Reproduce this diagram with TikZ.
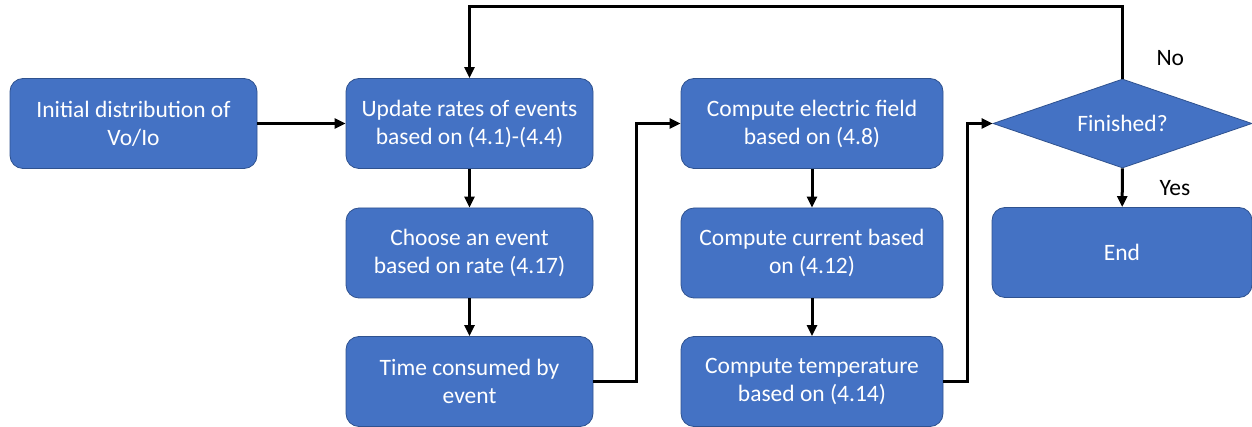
\documentclass[tikz,border=0pt]{standalone}
\usepackage{fontspec}
\setmainfont{Carlito}
\usetikzlibrary{arrows.meta,shapes.geometric}
\definecolor{boxblue}{HTML}{4472C4}
\definecolor{boxedge}{HTML}{2F528F}
\begin{document}
\begin{tikzpicture}[x=1pt,y=-1pt,
  txt/.style={font=\fontsize{23.5}{28}\selectfont},
  stepbox/.style={txt, draw=boxedge, line width=0.8pt, fill=boxblue,
    rounded corners=13pt, minimum width=247pt, minimum height=90pt,
    text=white, align=center, inner sep=0pt},
  widebox/.style={stepbox, minimum width=262pt},
  decision/.style={txt, diamond, aspect=2.91, draw=boxedge, line width=0.8pt,
    fill=boxblue, text=white, minimum width=259pt, minimum height=89pt,
    inner sep=0pt},
  flow/.style={line width=3pt, -{Triangle[length=11pt,width=10pt]}}
]
\useasboundingbox (0,0) rectangle (1252,427);

% boxes
\node[stepbox] (init)   at (133.5,123.5) {Initial distribution of\\Vo/Io};
\node[stepbox] (update) at (469.5,123.5) {Update rates of events\\based on (4.1)-(4.4)};
\node[stepbox] (choose) at (469.5,253)   {Choose an event\\based on rate (4.17)};
\node[stepbox] (timec)  at (469.5,381.5) {Time consumed by\\event};
\node[widebox] (field)  at (812,123.5)   {Compute electric field\\based on (4.8)};
\node[widebox] (curr)   at (812,253)     {Compute current based\\on (4.12)};
\node[widebox] (temp)   at (812,381.5)   {Compute temperature\\based on (4.14)};
\node[decision] (fin)   at (1122.5,123.5) {Finished?};
\node[stepbox, minimum width=260pt] (end) at (1122,252.5) {End};

% labels
\node[txt, anchor=west] (no)  at (1153,58)  {No};
\node[txt, anchor=west] (yes) at (1156,188) {Yes};

% connectors
\coordinate (top) at (0,7);
\draw[flow] (init) -- (update);
\draw[flow] (update) -- (choose);
\draw[flow] (choose) -- (timec);
\draw[flow] (timec.east) -| (636.5,123.5) -- (field.west);
\draw[flow] (field) -- (curr);
\draw[flow] (curr) -- (temp);
\draw[flow] (temp.east) -| (967,123.5) -- (fin.west);
\draw[flow] (fin) -- (end);
\draw[flow] (fin.north) |- (update.center |- top) -- (update.north);
\end{tikzpicture}
\end{document}
